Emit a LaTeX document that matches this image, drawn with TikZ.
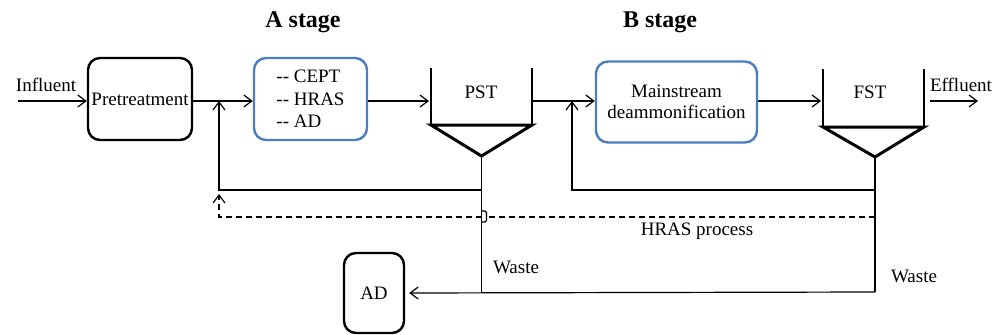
\documentclass[tikz,border=0pt]{standalone}
\usepackage{fontspec}
\setmainfont{Liberation Serif}
\usetikzlibrary{arrows.meta,positioning}
\definecolor{boxblue}{RGB}{74,126,193}

\begin{document}
\begin{tikzpicture}[x=1pt,y=-1pt,
	font=\fontsize{19}{22.5}\selectfont,
	pipe/.style={line width=1.2pt},
	flow/.style={pipe,-{Straight Barb[length=8pt,width=12pt,line width=1.2pt]}},
	recycle/.style={flow,dash pattern=on 6pt off 4pt},
	procbox/.style={draw,line width=2.4pt,rounded corners=12pt,inner sep=0pt},
	stagebox/.style={procbox,draw=boxblue},
	wall/.style={line width=1.5pt},
	cone/.style={line width=3pt,line join=miter}]
	\useasboundingbox (0,0) rectangle (1005,335);

	% Titels
	\node[font=\fontsize{24}{28}\selectfont\bfseries] (atitle) at (303,22) {A stage};
	\node[font=\fontsize{24}{28}\selectfont\bfseries] (btitle) at (660,22) {B stage};

	% Processtappen
	\node[procbox,minimum width=104pt,minimum height=82pt] (pre) at (140,99) {Pretreatment};
	\node[stagebox,minimum width=113pt,minimum height=82pt,align=left] (aproc) at (310.5,99) {-{}- CEPT\\ -{}- HRAS\\ -{}- AD};
	\node[stagebox,minimum width=161pt,minimum height=81pt,align=center] (bproc) at (676.5,102) {Mainstream\\[-1pt]deammonification};
	\node[procbox,minimum width=60pt,minimum height=80pt] (ad) at (374,293) {AD};

	% Bezinktanks
	\draw[wall] (431,68) -- (431,125) (532,68) -- (532,125);
	\draw[cone] (431,125) -- (532,125) -- (481.5,156) coordinate (pstcone) -- cycle;
	\node (pst) at (481,92) {PST};
	\draw[wall] (823,69) -- (823,127) (924,69) -- (924,127);
	\draw[cone] (823,127) -- (924,127) -- (875,157) coordinate (fstcone) -- cycle;
	\node (fst) at (870,92) {FST};

	% Hoofdstroom
	\node (infl) at (46,85) {Influent};
	\node (effl) at (961,85) {Effluent};
	\coordinate (inlet) at (18,101);
	\coordinate (pstin) at (429,101);
	\coordinate (pstout) at (533,101);
	\coordinate (fstin) at (821,101);
	\coordinate (fstout) at (930,101);
	\coordinate (outlet) at (978,101);
	\draw[flow] (inlet) -- (inlet -| pre.west);
	\draw[flow] (pre.east |- pstin) -- (aproc.west |- pstin);
	\draw[flow] (aproc.east |- pstin) -- (pstin);
	\draw[flow] (pstout) -- (bproc.west |- pstout);
	\draw[flow] (bproc.east |- fstin) -- (fstin);
	\draw[flow] (fstout) -- (outlet);

	% Slibretour
	\coordinate (aret) at (219,101);
	\coordinate (bret) at (572,101);
	\coordinate (pstwaste) at (481.5,292);
	\coordinate (fstwaste) at (875,292);
	\draw[pipe] (pstcone) -- (pstwaste);
	\draw[pipe] (fstcone) -- (fstwaste);
	\draw[flow] (pstcone |- 0,190) -| (aret);
	\draw[flow] (fstcone |- 0,190) -| (bret);

	% HRAS-retour (gestippeld, met sprong)
	\draw[pipe,rounded corners=1.5pt] (481.5,211) -- (486.5,211) -- (486.5,222) -- (481.5,222);
	\draw[pipe,dash pattern=on 6pt off 4pt] (fstcone |- 0,217) -- (486.5,217);
	\draw[recycle] (pstcone |- 0,217) -| (219,194);
	\node (hras) at (697,231) {HRAS process};

	% Spuislib
	\draw[flow] (fstwaste) -- ([xshift=4pt]ad.east);
	\node (waste1) at (516,267) {Waste};
	\node (waste2) at (914,276) {Waste};
\end{tikzpicture}
\end{document}
